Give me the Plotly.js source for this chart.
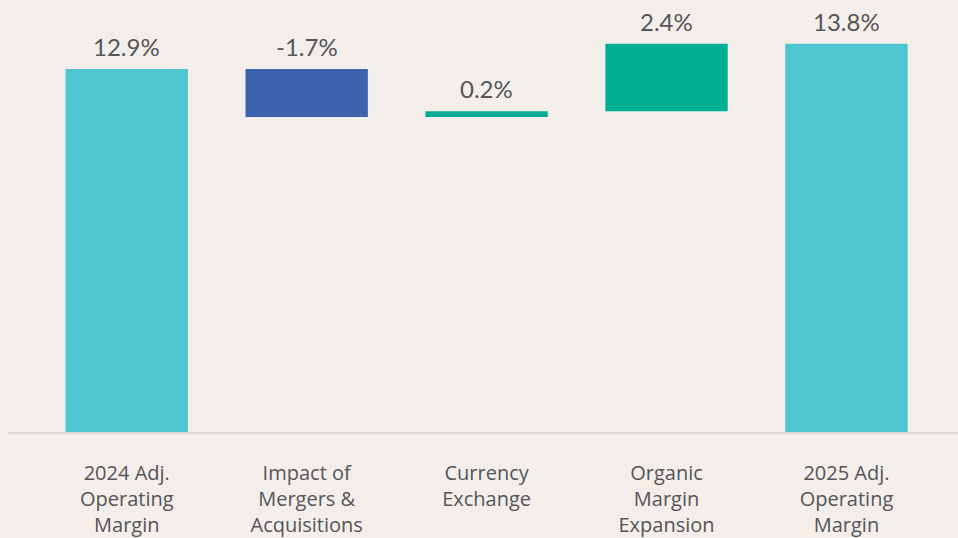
<!DOCTYPE html>
<html>
<head>
<meta charset="utf-8">
<script src="https://cdn.plot.ly/plotly-3.0.1.min.js"></script>
<style>html,body{margin:0;padding:0;background:#f4eeeb;}#chart{width:958px;height:538px;}</style>
</head>
<body>
<div id="chart"></div>
<script>
const categories = ["2024 Adj.<br>Operating<br>Margin", "Impact of<br>Mergers &<br>Acquisitions", "Currency<br>Exchange", "Organic<br>Margin<br>Expansion", "2025 Adj.<br>Operating<br>Margin"];
const measures = ["absolute", "relative", "relative", "relative", "total"];
const values = [12.9, -1.7, 0.2, 2.4, 13.8];
const labels = ["12.9%", "-1.7%", "0.2%", "2.4%", "13.8%"];

// compute bar tops from the data for label placement
let run = 0;
const tops = values.map((v, i) => {
  if (measures[i] === "absolute") { run = v; return v; }
  if (measures[i] === "total") { return run; }
  const start = run; run += v; return Math.max(start, run);
});

const trace = {
  type: "waterfall",
  x: categories.map((c, i) => i),
  y: values,
  measure: measures,
  width: 0.68,
  textposition: "none",
  connector: {visible: false},
  increasing: {marker: {color: "#00ae93"}},
  decreasing: {marker: {color: "#3d63ae"}},
  totals: {marker: {color: "#4ec5d0"}},
  hoverinfo: "none"
};

const annotations = labels.map((t, i) => ({
  x: i, y: tops[i], xref: "x", yref: "y",
  text: t, showarrow: false, yanchor: "bottom", yshift: 6,
  font: {family: "Lato, 'Open Sans', sans-serif", size: 24, color: "#555555"}
}));

const layout = {
  width: 958, height: 538,
  paper_bgcolor: "#f4eeeb", plot_bgcolor: "#f4eeeb",
  margin: {l: 8, r: 0, t: 10, b: 106},
  showlegend: false,
  xaxis: {
    range: [-0.66, 4.62],
    tickmode: "array", tickvals: categories.map((c, i) => i), ticktext: categories,
    showline: true, linecolor: "#dcd8d4", linewidth: 2,
    showgrid: false, zeroline: false, ticks: "",
    ticklabelstandoff: 22,
    tickfont: {family: "'Open Sans', Lato, sans-serif", size: 20, color: "#555555"}
  },
  yaxis: {range: [0, 15], visible: false, showgrid: false, zeroline: false},
  annotations: annotations
};

Plotly.newPlot("chart", [trace], layout, {displayModeBar: false, staticPlot: true});
</script>
</body>
</html>
